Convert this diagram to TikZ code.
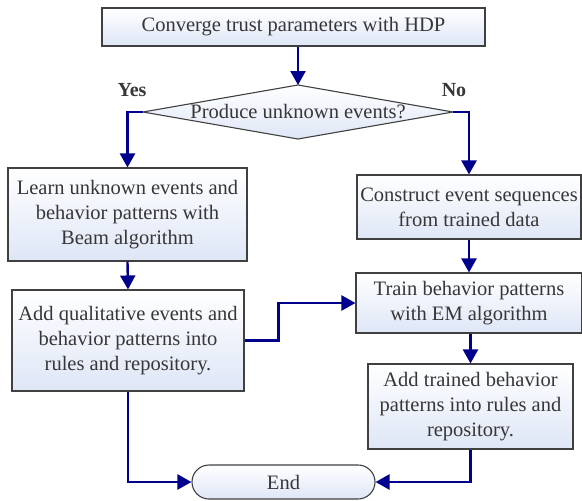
\documentclass[tikz,border=0pt]{standalone}
\usepackage{fontspec}
\setmainfont{Liberation Serif}
\usetikzlibrary{arrows.meta, positioning}
\definecolor{flowblue}{RGB}{0,0,140}
\definecolor{boxfill}{RGB}{222,230,246}
\definecolor{textgray}{RGB}{55,55,55}

\begin{document}
\begin{tikzpicture}[x=1pt, y=1pt,
    shell/.style={draw=black!75, line width=1.1pt, top color=white, bottom color=boxfill},
    box/.style={shell, align=center, inner sep=0pt, text=textgray, font=\fontsize{20.5}{25}\selectfont},
    flow/.style={-{Triangle[length=14pt,width=15pt]}, draw=flowblue, line width=2.4pt},
    answer/.style={font=\fontsize{20}{24}\selectfont\bfseries, text=textgray}]
    \useasboundingbox (0,0) rectangle (582,-501);

    % Start
    \node[box, minimum width=383pt, minimum height=38pt] (conv) at (293.5,-27) {Converge trust parameters with HDP};

    % Decision
    \coordinate (dec-n) at (298,-85);
    \coordinate (dec-s) at (298,-139);
    \coordinate (dec-w) at (143,-112);
    \coordinate (dec-e) at (453,-112);
    \path[shell] (dec-w) -- (dec-n) -- (dec-e) -- (dec-s) -- cycle;
    \node[text=textgray, font=\fontsize{20.5}{25}\selectfont] (dec) at (298,-112) {Produce unknown events?};
    \node[answer] (yes) at (132,-90) {Yes};
    \node[answer] (no) at (454,-90) {No};

    % Left branch
    \node[box, minimum width=239pt, minimum height=93pt] (learn) at (127.5,-214.5)
        {Learn unknown events and\\behavior patterns with\\Beam algorithm};
    \node[box, minimum width=232pt, minimum height=101pt] (addq) at (128,-340.5)
        {Add qualitative events and\\behavior patterns into\\rules and repository.};

    % Right branch
    \node[box, minimum width=224pt, minimum height=64pt] (seq) at (469,-207)
        {Construct event sequences\\from trained data};
    \node[box, minimum width=226pt, minimum height=60pt] (train) at (469,-303)
        {Train behavior patterns\\with EM algorithm};
    \node[box, minimum width=205pt, minimum height=85pt] (addt) at (470.5,-406.5)
        {Add trained behavior\\patterns into rules and\\repository.};

    % End
    \node[box, rounded corners=17pt, minimum width=183pt, minimum height=34pt] (finish) at (283.5,-482) {End};

    % Connectors
    \draw[flow] (conv.south -| dec-n) -- (dec-n);
    \draw[flow] (dec-w) -| (learn.north);
    \draw[flow] (dec-e) -| (seq.north);
    \draw[flow] (learn.south) -- (addq.north);
    \draw[flow] (seq.south) -- (train.north);
    \draw[flow] (train.south -| addt.north) -- (addt.north);
    \draw[flow] (addq.east) -- ++(34,0) |- (train.west);
    \draw[flow] (addq.south) |- (finish.west);
    \draw[flow] (addt.south) |- (finish.east);

\end{tikzpicture}
\end{document}
